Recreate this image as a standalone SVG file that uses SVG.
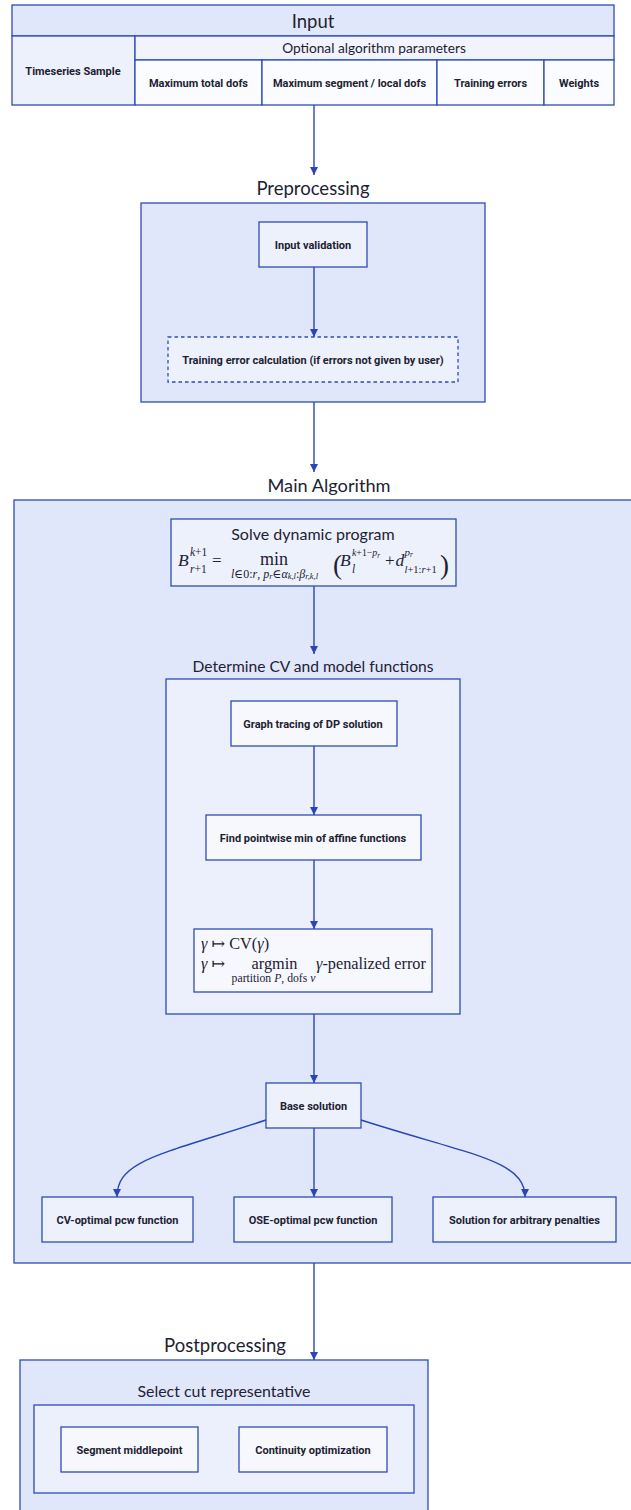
<svg xmlns="http://www.w3.org/2000/svg" width="631" height="1510" viewBox="0 0 631 1510">
<defs>
<marker id="ah" viewBox="0 0 10 10" refX="10" refY="5" markerWidth="8" markerHeight="8" markerUnits="userSpaceOnUse" orient="auto">
<path d="M0,0 L10,5 L0,10 z" fill="#2a45b8"/>
</marker>
<style>
.c1{fill:#e1e7fa;stroke:#2f4cb8;stroke-width:1.3}
.c2{fill:#ecf0fc;stroke:#2f4cb8;stroke-width:1.3}
.n1{fill:#edf1fc;stroke:#2f4cb8;stroke-width:1.3}
.n2{fill:#f6f8fe;stroke:#2f4cb8;stroke-width:1.3}
.t{font-family:Lato,"Liberation Sans",sans-serif;fill:#1d2233;text-anchor:middle}
.b{font-family:Roboto,"Liberation Sans",sans-serif;font-weight:bold;font-size:11px;fill:#1d2233;text-anchor:middle}
.m{font-family:"Liberation Serif","DejaVu Serif",serif;fill:#1d2233}
.i{font-style:italic}
.e{fill:none;stroke:#2a45b8;stroke-width:1.4}
</style>
</defs>
<rect width="631" height="1510" fill="#ffffff"/>

<g id="input">
<rect x="12" y="5" width="602" height="31" class="c1"/>
<rect x="12" y="36" width="123" height="69" class="n1"/>
<rect x="135" y="36" width="479" height="24" fill="#f1f4fd" stroke="#2f4cb8" stroke-width="1.3"/>
<rect x="135" y="60" width="127" height="45" fill="#fbfcff" stroke="#2f4cb8" stroke-width="1.3"/>
<rect x="262" y="60" width="175" height="45" fill="#fbfcff" stroke="#2f4cb8" stroke-width="1.3"/>
<rect x="437" y="60" width="107" height="45" fill="#fbfcff" stroke="#2f4cb8" stroke-width="1.3"/>
<rect x="544" y="60" width="70" height="45" fill="#fbfcff" stroke="#2f4cb8" stroke-width="1.3"/>
<text x="313" y="27.5" class="t" font-size="18.5">Input</text>
<text x="374" y="53" class="t" font-size="13.7">Optional algorithm parameters</text>
<text x="73" y="75" class="b">Timeseries Sample</text>
<text x="198.5" y="87" class="b">Maximum total dofs</text>
<text x="349.5" y="87" class="b">Maximum segment / local dofs</text>
<text x="490.5" y="87" class="b">Training errors</text>
<text x="579" y="87" class="b">Weights</text>
</g>

<g id="preprocessing">
<text x="313" y="194.5" class="t" font-size="18.5">Preprocessing</text>
<rect x="141" y="203" width="344" height="199" class="c1"/>
</g>
<g id="input-validation">
<rect x="259" y="222" width="108" height="45" class="n1"/>
<text x="313" y="248.5" class="b">Input validation</text>
</g>
<g id="training-error">
<rect x="168" y="337" width="290" height="45" class="n1" stroke-dasharray="3.5,3"/>
<text x="313" y="363.5" class="b">Training error calculation (if errors not given by user)</text>
</g>

<g id="main-algorithm">
<text x="329" y="491.5" class="t" font-size="18.2">Main Algorithm</text>
<rect x="14" y="500" width="630" height="763" class="c1"/>
</g>

<g id="solve-dp">
<rect x="171" y="519" width="285" height="67" class="n1"/>
<text x="313" y="539.5" class="t" font-size="16">Solve dynamic program</text>
<g class="m">
<text x="178" y="566" class="i" font-size="17.5">B</text>
<text x="190" y="556" font-size="11.5"><tspan class="i">k</tspan>+1</text>
<text x="190" y="572.5" font-size="11.5"><tspan class="i">r</tspan>+1</text>
<text x="212" y="566" font-size="17">=</text>
<text x="274" y="565" font-size="18" text-anchor="middle">min</text>
<text x="274.5" y="577.5" font-size="12" text-anchor="middle"><tspan class="i">l</tspan>∈0:<tspan class="i">r</tspan>, <tspan class="i">p</tspan><tspan font-size="8.5" dy="1.5" class="i">r</tspan><tspan dy="-1.5">∈</tspan><tspan class="i">α</tspan><tspan font-size="8.5" dy="1.5" class="i">k,l</tspan><tspan dy="-1.5">:</tspan><tspan class="i">β</tspan><tspan font-size="8.5" dy="1.5" class="i">r,k,l</tspan></text>
<text x="333" y="574" font-size="27">(</text>
<text x="340" y="566" class="i" font-size="17.5">B</text>
<text x="352" y="556" font-size="9.8"><tspan class="i">k</tspan>+1−<tspan class="i">p</tspan><tspan font-size="7.3" dy="1.5" class="i">r</tspan></text>
<text x="352" y="572.5" font-size="11.5" class="i">l</text>
<text x="385" y="566" font-size="17">+</text>
<text x="395.5" y="566" class="i" font-size="17.5">d</text>
<text x="404.5" y="555.5" font-size="11"><tspan class="i">p</tspan><tspan font-size="7.5" dy="1.5" class="i">r</tspan></text>
<text x="404.5" y="572.5" font-size="10.5"><tspan class="i">l</tspan>+1:<tspan class="i">r</tspan>+1</text>
<text x="440" y="574" font-size="27">)</text>
</g>
</g>

<g id="determine-cv">
<text x="313" y="671.5" class="t" font-size="15.6">Determine CV and model functions</text>
<rect x="166" y="679" width="294" height="335" class="c2"/>
</g>
<g id="graph-tracing">
<rect x="231" y="701" width="166" height="45" class="n2"/>
<text x="313" y="727.5" class="b">Graph tracing of DP solution</text>
</g>
<g id="pointwise-min">
<rect x="206" y="815" width="215" height="45" class="n2"/>
<text x="313" y="841.5" class="b">Find pointwise min of affine functions</text>
</g>
<g id="model-functions">
<rect x="194" y="929" width="238" height="63" class="n2"/>
<g class="m" font-size="16.3">
<text x="201" y="949"><tspan class="i">γ</tspan> ↦ CV(<tspan class="i">γ</tspan>)</text>
<text x="201" y="969"><tspan class="i">γ</tspan> ↦</text>
<text x="274.5" y="969" text-anchor="middle">argmin</text>
<text x="273.5" y="982" font-size="11.7" text-anchor="middle">partition <tspan class="i">P</tspan>, dofs <tspan class="i">ν</tspan></text>
<text x="316" y="969"><tspan class="i">γ</tspan>-penalized error</text>
</g>
</g>

<g id="base-solution">
<rect x="266" y="1083" width="95" height="45" class="n1"/>
<text x="313.5" y="1109.5" class="b">Base solution</text>
</g>
<g id="cv-optimal">
<rect x="42" y="1197" width="151" height="45" class="n1"/>
<text x="117.5" y="1223.5" class="b">CV-optimal pcw function</text>
</g>
<g id="ose-optimal">
<rect x="234" y="1197" width="158" height="45" class="n1"/>
<text x="313" y="1223.5" class="b">OSE-optimal pcw function</text>
</g>
<g id="arbitrary-penalties">
<rect x="433" y="1197" width="183" height="45" class="n1"/>
<text x="524.5" y="1223.5" class="b">Solution for arbitrary penalties</text>
</g>

<g id="postprocessing">
<text x="225" y="1351.5" class="t" font-size="18.5">Postprocessing</text>
<rect x="20" y="1360" width="408" height="170" class="c1"/>
</g>
<g id="select-cut">
<text x="224" y="1397" class="t" font-size="15.9">Select cut representative</text>
<rect x="34" y="1405" width="380" height="88" class="c2"/>
</g>
<g id="segment-middlepoint">
<rect x="61" y="1427" width="137" height="45" class="n2"/>
<text x="129.5" y="1453.5" class="b">Segment middlepoint</text>
</g>
<g id="continuity">
<rect x="239" y="1427" width="148" height="45" class="n2"/>
<text x="313" y="1453.5" class="b">Continuity optimization</text>
</g>

<g id="connectors">
<path d="M314,105 L314,175" class="e" marker-end="url(#ah)"/>
<path d="M314,267 L314,337" class="e" marker-end="url(#ah)"/>
<path d="M314,402 L314,472" class="e" marker-end="url(#ah)"/>
<path d="M314,586 L314,654" class="e" marker-end="url(#ah)"/>
<path d="M314,746 L314,815" class="e" marker-end="url(#ah)"/>
<path d="M314,860 L314,929" class="e" marker-end="url(#ah)"/>
<path d="M314,1014 L314,1083" class="e" marker-end="url(#ah)"/>
<path d="M314,1128 L314,1197" class="e" marker-end="url(#ah)"/>
<path d="M266,1120 C160,1155 117,1160 117,1197" class="e" marker-end="url(#ah)"/>
<path d="M361,1120 C470,1155 525,1160 525,1197" class="e" marker-end="url(#ah)"/>
<path d="M314,1263 L314,1360" class="e" marker-end="url(#ah)"/>
</g>
</svg>
